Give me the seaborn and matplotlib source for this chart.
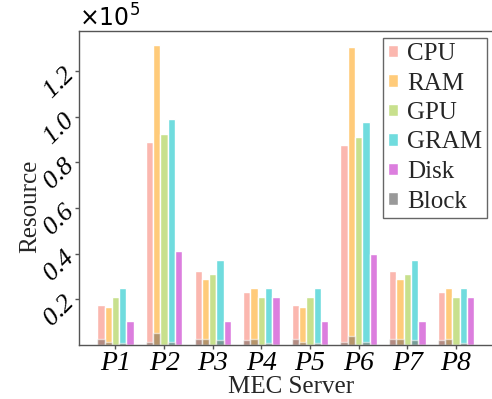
import numpy as np
import pandas as pd
import matplotlib
matplotlib.use("Agg")
import matplotlib.pyplot as plt
from matplotlib.patches import Patch
from matplotlib.ticker import ScalarFormatter
import seaborn as sns

servers = ["P1", "P2", "P3", "P4", "P5", "P6", "P7", "P8"]
resources = ["CPU", "RAM", "GPU", "GRAM", "Disk"]

cpu = [17400, 88800, 32200, 23100, 17400, 87500, 32200, 23100]
ram = [16800, 131500, 28900, 24800, 16800, 130400, 28900, 24800]
gpu = [20900, 92500, 30900, 20900, 20900, 91000, 30900, 20900]
gram = [24800, 98800, 37100, 24800, 24800, 97600, 37100, 24800]
disk = [10500, 41100, 10500, 20900, 10500, 39800, 10500, 20900]

# Block values shown as grey overlays at the foot of each resource bar
block_cpu = [2500, 1300, 2500, 2200, 2500, 1300, 2500, 2200]
block_ram = [1400, 5200, 2800, 2800, 1400, 4100, 2800, 2800]
block_gpu = [0, 0, 0, 0, 0, 0, 0, 0]
block_gram = [1000, 1400, 2200, 1000, 1000, 1400, 2200, 1000]
block_disk = [0, 0, 0, 0, 0, 0, 0, 0]

colors = ["#FBB7AF", "#FFCB7A", "#C8E08D", "#70DCDE", "#DC7EDE"]
block_color = "#7a6a60"

sns.set_theme(style="ticks")
plt.rcParams["font.family"] = ["Liberation Serif", "DejaVu Serif"]

res_df = pd.DataFrame({
    "server": servers * 5,
    "resource": sum([[r] * len(servers) for r in resources], []),
    "value": cpu + ram + gpu + gram + disk,
})
blk_df = pd.DataFrame({
    "server": servers * 5,
    "resource": sum([[r] * len(servers) for r in resources], []),
    "value": block_cpu + block_ram + block_gpu + block_gram + block_disk,
})

fig = plt.figure(figsize=(4.92, 3.99), dpi=100)
ax = fig.add_axes([0.1606, 0.1353, 0.86, 0.787])

sns.barplot(data=res_df, x="server", y="value", hue="resource",
            hue_order=resources, palette=colors, width=0.75,
            saturation=1, ax=ax, errorbar=None)
sns.barplot(data=blk_df, x="server", y="value", hue="resource",
            hue_order=resources, palette=[block_color] * 5, width=0.75,
            saturation=1, alpha=0.55, ax=ax, errorbar=None, legend=False)

ax.set_xlim(-0.75, 7.95)
ax.set_ylim(0, 1.375e5)
ax.set_yticks([0.2e5, 0.4e5, 0.6e5, 0.8e5, 1.0e5, 1.2e5])

fmt = ScalarFormatter(useMathText=True)
fmt.set_powerlimits((0, 0))
ax.yaxis.set_major_formatter(fmt)
ax.yaxis.get_offset_text().set_fontfamily("DejaVu Sans")
ax.yaxis.get_offset_text().set_fontsize(17)

for lab in ax.get_yticklabels():
    lab.set_rotation(45)
    lab.set_fontstyle("italic")
    lab.set_fontsize(19)
    lab.set_va("center")
    lab.set_ha("right")
    lab.set_rotation_mode("anchor")
for lab in ax.get_xticklabels():
    lab.set_fontstyle("italic")
    lab.set_fontsize(20)

ax.set_xlabel("MEC Server", fontsize=18, labelpad=0)
ax.set_ylabel("Resource", fontsize=18)
ax.yaxis.set_label_coords(-0.09, 0.443)

for s in ["left", "bottom", "top"]:
    ax.spines[s].set_color("#555555")
    ax.spines[s].set_linewidth(1.0)
ax.spines["right"].set_visible(False)
ax.tick_params(axis="both", colors="#555555", labelcolor="black", length=3, width=1)
ax.tick_params(axis="y", pad=2)
ax.tick_params(axis="x", pad=1)

handles, labels = ax.get_legend_handles_labels()
handles = list(handles[:5]) + [Patch(facecolor="#999999")]
labels = list(labels[:5]) + ["Block"]
leg = ax.legend(handles, labels, loc="upper right", fontsize=18,
                frameon=True, fancybox=False, edgecolor="#666666",
                framealpha=1, handlelength=0.4, handleheight=0.4,
                handletextpad=0.35, labelspacing=0.3, borderpad=0.2,
                borderaxespad=0.0,
                bbox_transform=fig.transFigure,
                bbox_to_anchor=(487 / 492, 1 - 38 / 399))
leg.get_frame().set_linewidth(1.0)

fig.savefig("out.png", dpi=100)
